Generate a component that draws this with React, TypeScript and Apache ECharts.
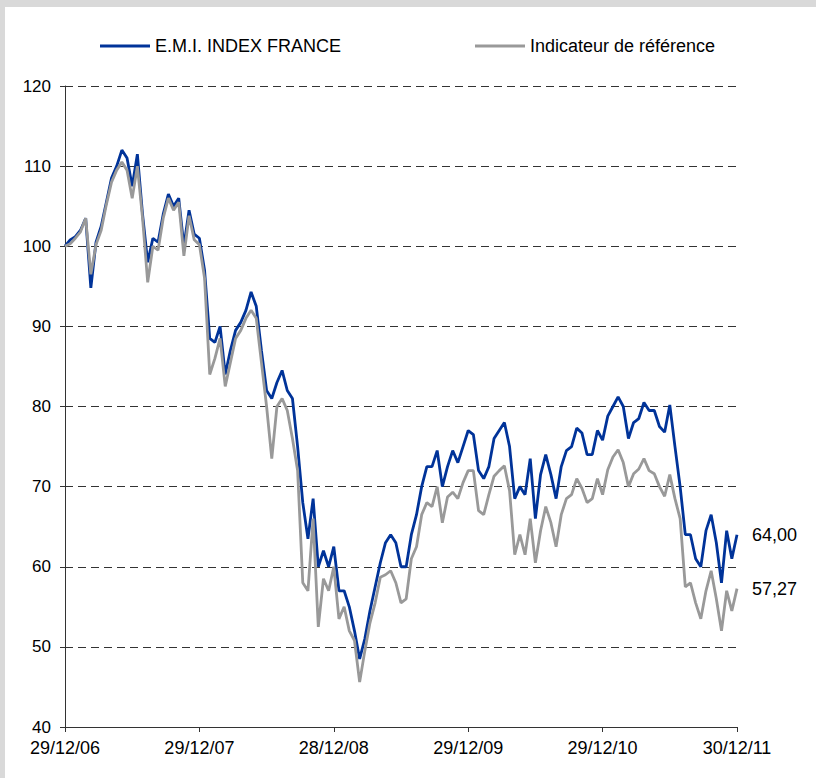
import React, { useEffect, useRef } from "react";
import * as echarts from "echarts";

const xLabels = ["29/12/06", "29/12/07", "28/12/08", "29/12/09", "29/12/10", "30/12/11"];
const seriesNames = ["E.M.I. INDEX FRANCE", "Indicateur de référence"];
const endLabels = ["64,00", "57,27"];

// bi-weekly readings, index 0..130
const emiValues = [
  100, 100.8, 101.2, 102, 103.5, 94.8, 100.5, 102.5, 105.5, 108.5,
  110, 112, 111, 107.5, 111.5, 104, 98, 101, 100.5, 104,
  106.5, 105, 106, 100, 104.5, 101.5, 101, 97, 88.5, 88,
  90, 84, 87, 89.5, 90.5, 92, 94.3, 92.5, 87, 82,
  81, 83, 84.5, 82, 81, 75, 68, 63.5, 68.5, 60,
  62, 60, 62.5, 57, 57, 55, 52, 48.5, 51, 54.5,
  57.5, 60.5, 63, 64, 63, 60, 60, 64, 66.5, 70,
  72.5, 72.5, 74.5, 70, 72.5, 74.5, 73, 75, 77, 76.5,
  72, 71, 72.5, 76, 77, 78, 75, 68.5, 70, 69,
  73.5, 66, 71.5, 74, 71.5, 68.5, 72.5, 74.5, 75, 77.3,
  76.7, 74, 74, 77, 75.8, 78.8, 80, 81.2, 80, 76,
  78, 78.5, 80.5, 79.5, 79.5, 77.5, 76.8, 80.2, 75, 70,
  64, 64, 61, 60, 64.5, 66.5, 63, 58, 64.5, 61,
  64,
];
const refValues = [
  100, 100.3, 101, 101.8, 103.5, 96.5, 100.2, 102, 105.2, 108,
  109.5, 110.5, 109.5, 106, 110, 103.5, 95.5, 100, 99.5, 103.5,
  106, 104.5, 105.5, 98.8, 103.8, 100.8, 100.2, 96, 84, 86,
  88.5, 82.5, 85.5, 88.5, 89.5, 91, 92, 91, 85.5, 80,
  73.5, 80, 81, 79.5, 76, 72, 58, 57, 66, 52.5,
  58.5, 57, 60, 53.5, 55, 52, 50.8, 45.6, 49.5, 53,
  55.5, 58.7, 59, 59.5, 58, 55.5, 56, 61, 62.5, 66.5,
  68, 67.5, 70, 65.5, 68.7, 69.3, 68.5, 70.5, 72, 72,
  67, 66.5, 69, 71.3, 72, 72.6, 69.5, 61.5, 64, 61.5,
  66, 60.5, 64.5, 67.5, 65.5, 62.5, 66.5, 68.5, 69, 71,
  69.8, 68, 68.5, 71, 69, 72.1, 73.7, 74.6, 73, 70,
  71.6, 72.2, 73.5, 72, 71.6, 70, 68.8, 71.5, 68.5, 66,
  57.5, 58, 55.5, 53.5, 57, 59.5, 56, 52, 57, 54.5,
  57.27,
];

const FONT = "'Liberation Sans', Arial, sans-serif";

export default function App() {
  const ref = useRef<HTMLDivElement>(null);
  useEffect(() => {
    document.body.style.margin = "0";
    const chart = echarts.init(ref.current!, null, { renderer: "svg" });
    const lastIdx = emiValues.length - 1;
    const mk = (vals: number[]) => vals.map((v, i) => [i, v]);
    chart.setOption({
      animation: false,
      backgroundColor: "#d9d9d9",
      textStyle: { fontFamily: FONT },
      graphic: [
        { type: "rect", shape: { x: 5, y: 7, width: 820, height: 780 }, style: { fill: "#ffffff" }, z: -10 },
      ],
      legend: [
        {
          data: [seriesNames[0]], left: 95, top: 32, icon: "rect", itemWidth: 50, itemHeight: 3,
          textStyle: { fontSize: 18, color: "#000", fontFamily: FONT },
        },
        {
          data: [seriesNames[1]], left: 470, top: 32, icon: "rect", itemWidth: 50, itemHeight: 3,
          textStyle: { fontSize: 18, color: "#000", fontFamily: FONT },
        },
      ],
      grid: { left: 65, top: 86, right: 79, bottom: 51, containLabel: false },
      xAxis: {
        type: "value", min: 0, max: lastIdx, interval: 26,
        axisLine: { lineStyle: { color: "#333", width: 1 } },
        axisTick: { show: true, length: 5, lineStyle: { color: "#333" } },
        splitLine: { show: false },
        axisLabel: {
          fontSize: 18, color: "#000", margin: 12, fontFamily: FONT,
          formatter: (v: number) => xLabels[Math.round(v / 26)] ?? "",
        },
      },
      yAxis: {
        type: "value", min: 40, max: 120, interval: 10,
        axisLine: { show: true, lineStyle: { color: "#333", width: 1 } },
        axisTick: { show: true, length: 5, lineStyle: { color: "#333" } },
        splitLine: { show: true, lineStyle: { color: "#333", type: [8, 5], width: 1 } },
        axisLabel: { fontSize: 17, color: "#000", margin: 14, fontFamily: FONT },
      },
      series: [
        {
          name: seriesNames[0], type: "line", data: mk(emiValues), showSymbol: false, symbol: "none",
          lineStyle: { color: "#003399", width: 2.8 }, itemStyle: { color: "#003399" },
          endLabel: { show: true, formatter: endLabels[0], distance: 15, fontSize: 18, color: "#000", fontFamily: FONT },
        },
        {
          name: seriesNames[1], type: "line", data: mk(refValues), showSymbol: false, symbol: "none",
          lineStyle: { color: "#999999", width: 2.8 }, itemStyle: { color: "#999999" },
          endLabel: { show: true, formatter: endLabels[1], distance: 15, fontSize: 18, color: "#000", fontFamily: FONT },
        },
      ],
    });
    return () => chart.dispose();
  }, []);
  return (
    <div style={{ position: "absolute", left: 0, top: 0, width: 816, height: 778 }}>
      <div ref={ref} style={{ width: 816, height: 778 }} />
    </div>
  );
}
